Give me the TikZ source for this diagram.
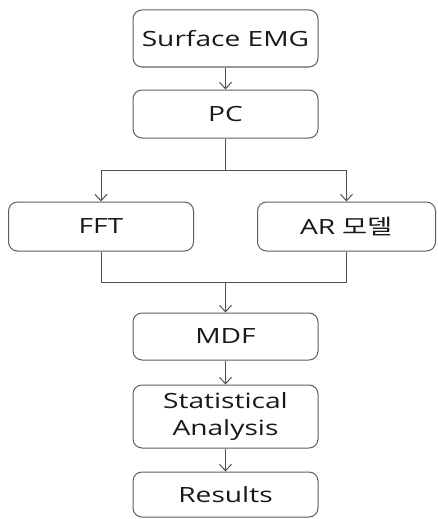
\documentclass[tikz,border=0pt]{standalone}
\usepackage{fontspec}
\setmainfont{Open Sans}[FakeStretch=1.34]
\newfontfamily\krfont{Noto Sans CJK KR}[FakeStretch=1.3]
\usetikzlibrary{positioning}
\usetikzlibrary{arrows.meta}
\definecolor{boxColor}{HTML}{5E5E5E}
\definecolor{lineColor}{HTML}{505050}

\begin{document}
\begin{tikzpicture}[
			x=1pt, y=-1pt,
			stage/.style={draw=boxColor, line width=1pt, rounded corners=9pt, minimum width=185pt, font=\fontsize{21}{27}\selectfont, text=black!90, align=center, inner sep=0pt},
			flow/.style={draw=lineColor, line width=1pt, -{Straight Barb[length=6.5pt, width=12pt]}},
			link/.style={draw=lineColor, line width=1pt},
			]
			\useasboundingbox (0,0) rectangle (437,519);
			\node[stage, minimum height=57pt] (emg) at (225.5,38.5) {Surface EMG};
			\node[stage, minimum height=48pt] (pc) at (225.5,114) {PC};
			\node[stage, minimum height=49pt] (fft) at (101,226.5) {FFT};
			\node[stage, minimum height=49pt, minimum width=178pt] (ar) at (346.5,226.5) {AR {\krfont 모델}};
			\node[stage, minimum height=47pt] (mdf) at (225.5,336.5) {MDF};
			\node[stage, minimum height=63pt] (stat) at (225.5,416.5) {Statistical\\Analysis};
			\node[stage, minimum height=45pt] (res) at (225.5,494.5) {Results};
			\coordinate (split) at (225.5,170);
			\coordinate (merge) at (225.5,282);
			\draw[flow] (emg) -- (pc);
			\draw[link] (pc) -- (split);
			\foreach \j in {fft,ar} \draw[flow] (split) -| (\j);
			\foreach \i in {fft,ar} \draw[link] (\i) |- (merge);
			\draw[flow] (merge) -- (mdf);
			\draw[flow] (mdf) -- (stat);
			\draw[flow] (stat) -- (res);
		\end{tikzpicture}
\end{document}
